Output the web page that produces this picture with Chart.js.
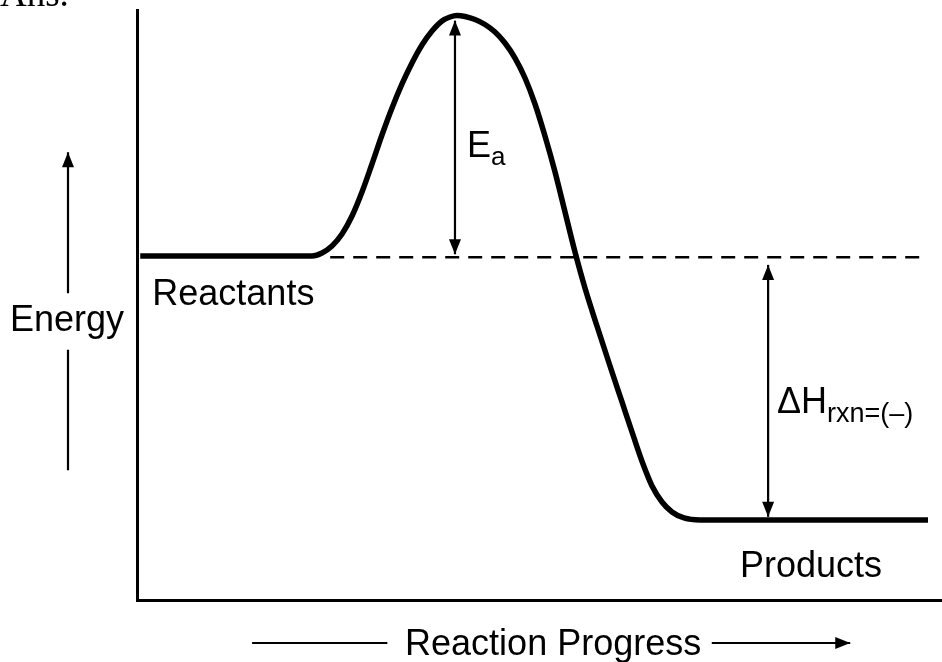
<!DOCTYPE html>
<html>
<head>
<meta charset="utf-8">
<script src="https://cdn.jsdelivr.net/npm/chart.js@4.4.0/dist/chart.umd.min.js"></script>
<style>
    html, body { margin: 0; padding: 0; background: #fff; }
    #wrap { width: 942px; height: 662px; position: relative; }
</style>
</head>
<body>
<div id="wrap"><canvas id="energyChart"></canvas></div>
<script>
// Energy profile: reaction progress (0-100) and energy (0-100)
const progress = [0.4, 21.74, 22.98, 24.22, 25.47, 26.71, 27.95, 29.19, 30.43, 31.68, 32.92, 34.16, 35.40, 36.65, 37.89, 38.88,
                  39.75, 40.75, 41.99, 43.23, 44.47, 45.71, 46.96, 48.20, 49.44, 50.68, 51.93, 53.17, 54.41, 55.65, 57.14,
                  58.76, 60.25, 61.74, 62.86, 63.98, 65.22, 66.46, 67.95, 69.94, 98.26];
const energy   = [58.31, 58.31, 58.81, 60.0, 62.03, 65.08, 69.15, 73.90, 78.81, 83.39, 87.46, 91.02, 94.07, 96.44, 98.14, 98.81,
                  99.07, 98.90, 98.39, 97.54, 96.27, 94.41, 91.86, 88.47, 84.07, 78.64, 72.54, 65.76, 58.98, 52.88, 46.44,
                  39.66, 33.56, 27.46, 23.05, 19.32, 16.61, 14.92, 13.90, 13.56, 13.56];

// Dashed reactant level
const reactantX = [24.0, 97.9];
const reactantY = [58.1, 58.1];

// Ea and ΔH double arrows
const eaX = [39.5, 39.5];
const eaY = [58.6, 98.2];
const dhX = [78.4, 78.4];
const dhY = [14.1, 56.8];

const FONT = "'Liberation Sans', Arial, Helvetica, sans-serif";

function toPoints(xs, ys) {
    return xs.map((x, i) => ({ x: x, y: ys[i] }));
}

// Рисуем наконечник стрелки
function arrowHead(ctx, tipX, tipY, dirX, dirY, len, half) {
    const bx = tipX - dirX * len;
    const by = tipY - dirY * len;
    ctx.beginPath();
    ctx.moveTo(tipX, tipY);
    ctx.lineTo(bx - dirY * half, by + dirX * half);
    ctx.lineTo(bx + dirY * half, by - dirX * half);
    ctx.closePath();
    ctx.fill();
}

function drawText(ctx, text, x, y, size, sub, subSize, subDrop) {
    ctx.font = size + 'px ' + FONT;
    ctx.fillText(text, x, y);
    if (sub) {
        const w = ctx.measureText(text).width;
        ctx.font = subSize + 'px ' + FONT;
        ctx.fillText(sub, x + w, y + subDrop);
    }
}

const annotations = {
    id: 'annotations',
    afterDatasetsDraw(chart) {
        const ctx = chart.ctx;
        const xs = chart.scales.x;
        const ys = chart.scales.y;
        const area = chart.chartArea;
        ctx.save();
        ctx.fillStyle = '#000';
        ctx.strokeStyle = '#000';

        // наконечники стрелок Ea и ΔH
        chart.data.datasets.forEach((ds, i) => {
            if (!ds.doubleArrow) return;
            const pts = chart.getDatasetMeta(i).data;
            const a = pts[0], b = pts[pts.length - 1];
            const dx = b.x - a.x, dy = b.y - a.y;
            const l = Math.hypot(dx, dy);
            arrowHead(ctx, b.x, b.y, dx / l, dy / l, 15, 6);
            arrowHead(ctx, a.x, a.y, -dx / l, -dy / l, 15, 6);
        });

        // стрелка оси энергии
        const ex = area.left - 69;
        ctx.lineWidth = 2.2;
        ctx.beginPath();
        ctx.moveTo(ex, ys.getPixelForValue(52.0));
        ctx.lineTo(ex, ys.getPixelForValue(75.9));
        ctx.moveTo(ex, ys.getPixelForValue(22.0));
        ctx.lineTo(ex, ys.getPixelForValue(42.4));
        ctx.stroke();
        arrowHead(ctx, ex, ys.getPixelForValue(75.9), 0, -1, 15, 6);

        // стрелка хода реакции
        const py = area.bottom + 43;
        ctx.beginPath();
        ctx.moveTo(xs.getPixelForValue(14.3), py);
        ctx.lineTo(xs.getPixelForValue(31.1), py);
        ctx.moveTo(xs.getPixelForValue(71.4), py);
        ctx.lineTo(xs.getPixelForValue(88.6), py);
        ctx.stroke();
        arrowHead(ctx, xs.getPixelForValue(88.6), py, 1, 0, 15, 6);

        // подписи
        ctx.textBaseline = 'alphabetic';
        ctx.textAlign = 'left';
        drawText(ctx, 'E', xs.getPixelForValue(41.0), ys.getPixelForValue(75.1), 36, 'a', 26, 8);
        drawText(ctx, 'Reactants', xs.getPixelForValue(1.9), ys.getPixelForValue(50.0), 36);
        drawText(ctx, 'Products', xs.getPixelForValue(74.9), ys.getPixelForValue(3.9), 36);
        drawText(ctx, '\u0394H', xs.getPixelForValue(79.5), ys.getPixelForValue(31.7), 36, 'rxn=(\u2013)', 27, 9);
        drawText(ctx, 'Energy', area.left - 127, ys.getPixelForValue(45.6), 36);
        drawText(ctx, 'Reaction Progress', xs.getPixelForValue(33.3), area.bottom + 55, 36);

        // обрезанный текст сверху страницы
        ctx.font = "37px 'Liberation Serif', 'Times New Roman', serif";
        ctx.fillText('Ans.', 0, 6);
        ctx.restore();
    }
};

const chart = new Chart(document.getElementById('energyChart').getContext('2d'), {
    type: 'line',
    data: {
        datasets: [
            {
                label: 'Energy profile',
                data: toPoints(progress, energy),
                borderColor: '#000',
                borderWidth: 5.5,
                pointRadius: 0,
                cubicInterpolationMode: 'monotone',
                fill: false
            },
            {
                label: 'Reactant level',
                data: toPoints(reactantX, reactantY),
                borderColor: '#000',
                borderWidth: 2.5,
                borderDash: [14, 9],
                pointRadius: 0,
                fill: false
            },
            {
                label: 'Ea',
                data: toPoints(eaX, eaY),
                borderColor: '#000',
                borderWidth: 2.2,
                pointRadius: 0,
                fill: false,
                doubleArrow: true
            },
            {
                label: 'dH',
                data: toPoints(dhX, dhY),
                borderColor: '#000',
                borderWidth: 2.2,
                pointRadius: 0,
                fill: false,
                doubleArrow: true
            }
        ]
    },
    options: {
        responsive: true,
        maintainAspectRatio: false,
        animation: false,
        layout: { padding: { left: 137, top: 10, right: 0, bottom: 62 } },
        plugins: {
            legend: { display: false },
            tooltip: { enabled: false }
        },
        scales: {
            x: {
                type: 'linear',
                min: 0,
                max: 100,
                grid: { display: false, drawTicks: false },
                ticks: { display: false },
                border: { display: true, color: '#000', width: 3 }
            },
            y: {
                type: 'linear',
                min: 0,
                max: 100,
                grid: { display: false, drawTicks: false },
                ticks: { display: false },
                border: { display: true, color: '#000', width: 3 }
            }
        }
    },
    plugins: [annotations]
});
</script>
</body>
</html>
